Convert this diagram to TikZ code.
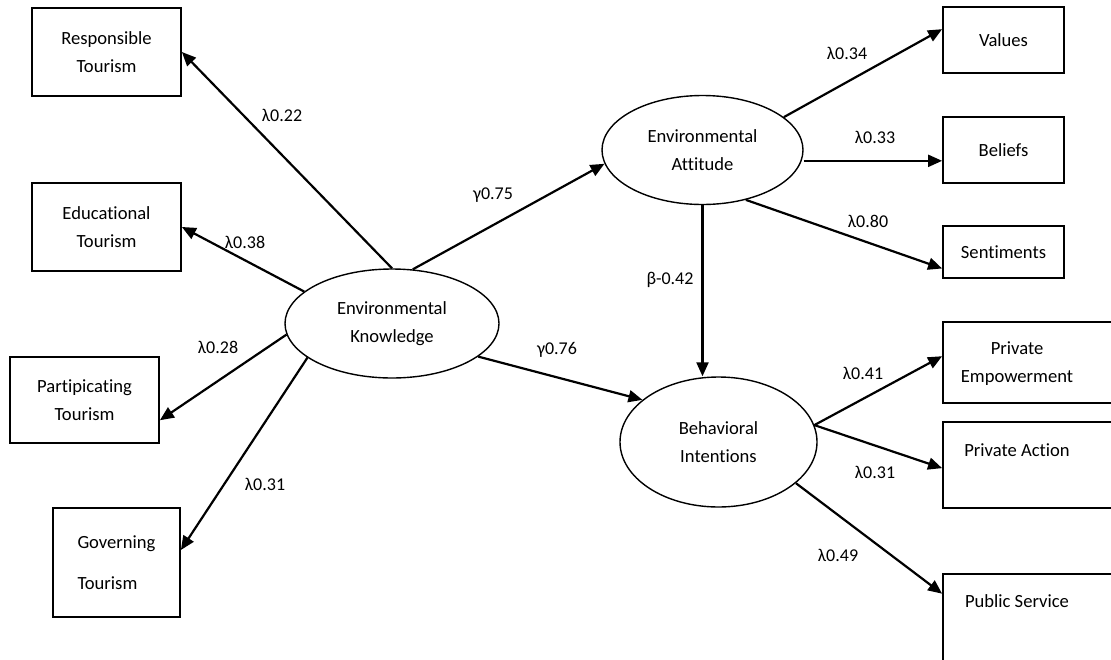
\documentclass[tikz,border=0pt]{standalone}
\usepackage{fontspec}
\setmainfont{Carlito}[Ligatures={NoCommon}]
\usetikzlibrary{shapes.geometric,arrows.meta,calc}
\tikzset{
  txt/.style={font=\fontsize{18.6}{28}\selectfont},
  box/.style={txt, draw, line width=1.8pt, rectangle, inner sep=0pt, align=center},
  lat/.style={txt, draw, ellipse, line width=1.4pt, inner sep=0pt, align=center},
  arr/.style={line width=2.2pt, -{Triangle[length=14pt,width=12pt]}},
  lab/.style={font=\fontsize{18}{20}\selectfont, inner sep=0pt}
}
\begin{document}
\begin{tikzpicture}[x=1pt,y=-1pt]
\useasboundingbox (0,0) rectangle (1111,659);
\clip (0,0) rectangle (1111,659);
% left indicator boxes
\node[box, minimum width=149pt, minimum height=88pt] (rt) at (106.5,52) {Responsible\\Tourism};
\node[box, minimum width=149pt, minimum height=88pt] (ed) at (106.5,227) {Educational\\Tourism};
\node[box, minimum width=149pt, minimum height=86pt] (pt) at (84.5,400) {Partipicating\\Tourism};
\node[box, minimum width=127pt, minimum height=109pt, align=left] (gv) at (116.5,562.5) {Governing\\[13pt]Tourism};
% latent variables
\node[lat, minimum width=214pt, minimum height=109pt] (ek) at (392,323.5) {Environmental\\Knowledge};
\node[lat, minimum width=201pt, minimum height=109pt] (ea) at (702.5,150) {Environmental\\Attitude};
\node[lat, minimum width=197pt, minimum height=130pt] (bi) at (718.5,442) {Behavioral\\Intentions};
% right indicator boxes
\node[box, minimum width=121pt, minimum height=66pt] (vl) at (1003.5,40) {Values};
\node[box, minimum width=121pt, minimum height=66pt] (bl) at (1003.5,150) {Beliefs};
\node[box, minimum width=121pt, minimum height=52pt] (st) at (1003.5,252) {Sentiments};
\node[box, minimum width=178pt, minimum height=81pt] (pe) at (1032,362.5) {\begin{tabular}{@{}c@{}}Private\\Empowerment\end{tabular}\hspace*{30pt}};
\node[box, minimum width=178pt, minimum height=86pt] (pa) at (1032,465) {\begin{tabular}{@{}c@{}}Private Action\\\mbox{}\end{tabular}\hspace*{30pt}};
\node[box, minimum width=178pt, minimum height=112pt] (ps) at (1032,630) {\begin{tabular}{@{}c@{}}Public Service\\\mbox{}\\\mbox{}\end{tabular}\hspace*{30pt}};
% connectors
\draw[arr] (ek.north) -- (rt.east);
\draw[arr] (ek.160) -- (ed.east);
\draw[arr] (ek.186) -- (pt.-15);
\draw[arr] (ek.202) -- (gv.11);
\draw[arr] (ek.69) -- (ea.188);
\draw[arr] (ek.-21.6) -- (bi.151);
\draw[arr] (ea.south) -- (ea.south |- bi.north);
\draw[arr] (ea.22) -- (vl.170.6);
\draw[arr] (ea.east |- bl.190) -- (bl.190);
\draw[arr] (ea.-49) -- (st.195);
\draw[arr] (bi.10.7) -- (pe.176.5);
\draw[arr] (bi.10.7) -- (pa.182);
\draw[arr] (bi.-28.2) -- (ps.158.5);
% labels
\node[lab] (l1) at (282,115) {λ0.22};
\node[lab] (l2) at (245,242) {λ0.38};
\node[lab] (l3) at (218,347) {λ0.28};
\node[lab] (l4) at (265,484) {λ0.31};
\node[lab] (l5) at (493,195) {γ0.75};
\node[lab] (l6) at (557,350) {γ0.76};
\node[lab] (l7) at (670,280) {β-0.42};
\node[lab] (l8) at (847,53) {λ0.34};
\node[lab] (l9) at (875,137) {λ0.33};
\node[lab] (l10) at (868,221) {λ0.80};
\node[lab] (l11) at (863,373) {λ0.41};
\node[lab] (l12) at (875,472) {λ0.31};
\node[lab] (l13) at (838,555) {λ0.49};
\end{tikzpicture}
\end{document}
